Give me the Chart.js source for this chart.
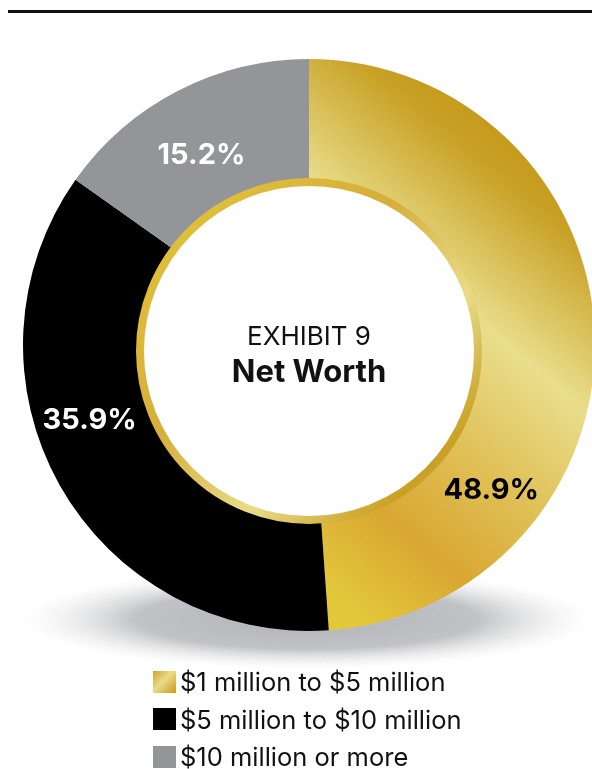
<!DOCTYPE html>
<html>
<head>
<meta charset="utf-8">
<script src="https://cdn.jsdelivr.net/npm/chart.js@4.4.1/dist/chart.umd.min.js"></script>
<style>
  html, body { margin: 0; padding: 0; background: #fff; }
  body { width: 592px; height: 769px; position: relative; overflow: hidden; font-family: Inter, "Noto Sans", sans-serif; }
  .rule { position: absolute; left: 8px; right: 0; top: 10px; height: 3px; background: #111; }
  #wrap { position: absolute; left: 0; top: 0; width: 592px; height: 769px; }
  #legend { position: absolute; left: 153px; top: 663px; }
  .item { display: flex; align-items: center; height: 37.5px; }
  .sw { width: 23px; height: 22px; margin-right: 4px; }
  .lab { font-size: 25.5px; color: #111; }
</style>
</head>
<body>
<div class="rule"></div>
<div id="wrap"><canvas id="netWorth" width="592" height="769"></canvas></div>
<div id="legend"></div>
<script>
const categories = ['$1 million to $5 million', '$5 million to $10 million', '$10 million or more'];
const shares = [48.9, 35.9, 15.2];

const canvas = document.getElementById('netWorth');
const ctx = canvas.getContext('2d');

// gold fill for the first slice, dark at upper right, pale band, orange, yellow at bottom
const gold = ctx.createLinearGradient(565, 161, 239, 554);
gold.addColorStop(0, '#c39818');
gold.addColorStop(0.1, '#c8a024');
gold.addColorStop(0.35, '#e9de8c');
gold.addColorStop(0.55, '#e0c25a');
gold.addColorStop(0.76, '#d9a732');
gold.addColorStop(0.95, '#e3c93a');

const colors = [gold, '#000000', '#939598'];
const labelColors = ['#000', '#fff', '#fff'];
// where each percentage sits: fraction along the arc, distance from centre
const labelSpots = [[0.73, 233], [0.58, 232], [0.46, 218]];

const decor = {
    id: 'decor',
    beforeDatasetsDraw(chart) {
        const c = chart.ctx;
        // soft floor shadow
        c.save();
        c.translate(307, 619);
        c.scale(1, 50 / 285);
        const g = c.createRadialGradient(0, 0, 0, 0, 0, 285);
        g.addColorStop(0, 'rgba(178,179,182,1)');
        g.addColorStop(0.6, 'rgba(190,191,194,0.95)');
        g.addColorStop(1, 'rgba(230,231,232,0)');
        c.fillStyle = g;
        c.beginPath();
        c.arc(0, 0, 285, 0, Math.PI * 2);
        c.fill();
        c.restore();
    },
    afterDatasetsDraw(chart) {
        const c = chart.ctx;
        const arcs = chart.getDatasetMeta(0).data;
        const cx = arcs[0].x;
        const cy = arcs[0].y;

        // inner hole with a gold rim
        const hx = cx, hy = cy + 6, hr = 169;
        const rim = c.createLinearGradient(hx - hr, hy - hr, hx + hr, hy + hr);
        rim.addColorStop(0, '#e2c73a');
        rim.addColorStop(0.4, '#d6ae3a');
        rim.addColorStop(0.65, '#e9dc88');
        rim.addColorStop(0.85, '#c9a024');
        rim.addColorStop(1, '#e6d57c');
        c.save();
        c.beginPath();
        c.arc(hx, hy, hr, 0, Math.PI * 2);
        c.fillStyle = '#fff';
        c.fill();
        c.lineWidth = 8;
        c.strokeStyle = rim;
        c.stroke();

        c.fillStyle = '#111';
        c.textAlign = 'center';
        c.textBaseline = 'middle';
        c.font = '400 26px Inter';
        c.fillText('EXHIBIT 9', hx, 337);
        c.font = '700 31px Inter';
        c.fillText('Net Worth', hx, 373);

        // percentage labels
        c.font = '700 29px Inter';
        arcs.forEach((a, i) => {
            const [f, r] = labelSpots[i];
            const ang = a.startAngle + (a.endAngle - a.startAngle) * f;
            c.fillStyle = labelColors[i];
            c.fillText(shares[i].toFixed(1) + '%', cx + Math.cos(ang) * r, cy + Math.sin(ang) * r);
        });
        c.restore();
    }
};

new Chart(ctx, {
    type: 'doughnut',
    data: {
        labels: categories,
        datasets: [{
            data: shares,
            backgroundColor: colors,
            borderWidth: 0,
            radius: 286,
            clip: false
        }]
    },
    options: {
        responsive: false,
        animation: false,
        cutout: '57.7%',
        layout: { padding: { left: 26, right: 0, top: 0, bottom: 79 } },
        plugins: {
            legend: { display: false },
            tooltip: { enabled: false }
        }
    },
    plugins: [decor]
});

// legend built from the same categories
const legendSwatches = [
    'linear-gradient(135deg, #d2a52a 0%, #e9dc88 45%, #c99a1c 100%)',
    '#000000',
    '#939598'
];
const legend = document.getElementById('legend');
categories.forEach((name, i) => {
    const row = document.createElement('div');
    row.className = 'item';
    row.innerHTML = '<div class="sw" style="background:' + legendSwatches[i] + '"></div><span class="lab">' + name + '</span>';
    legend.appendChild(row);
});
</script>
</body>
</html>
